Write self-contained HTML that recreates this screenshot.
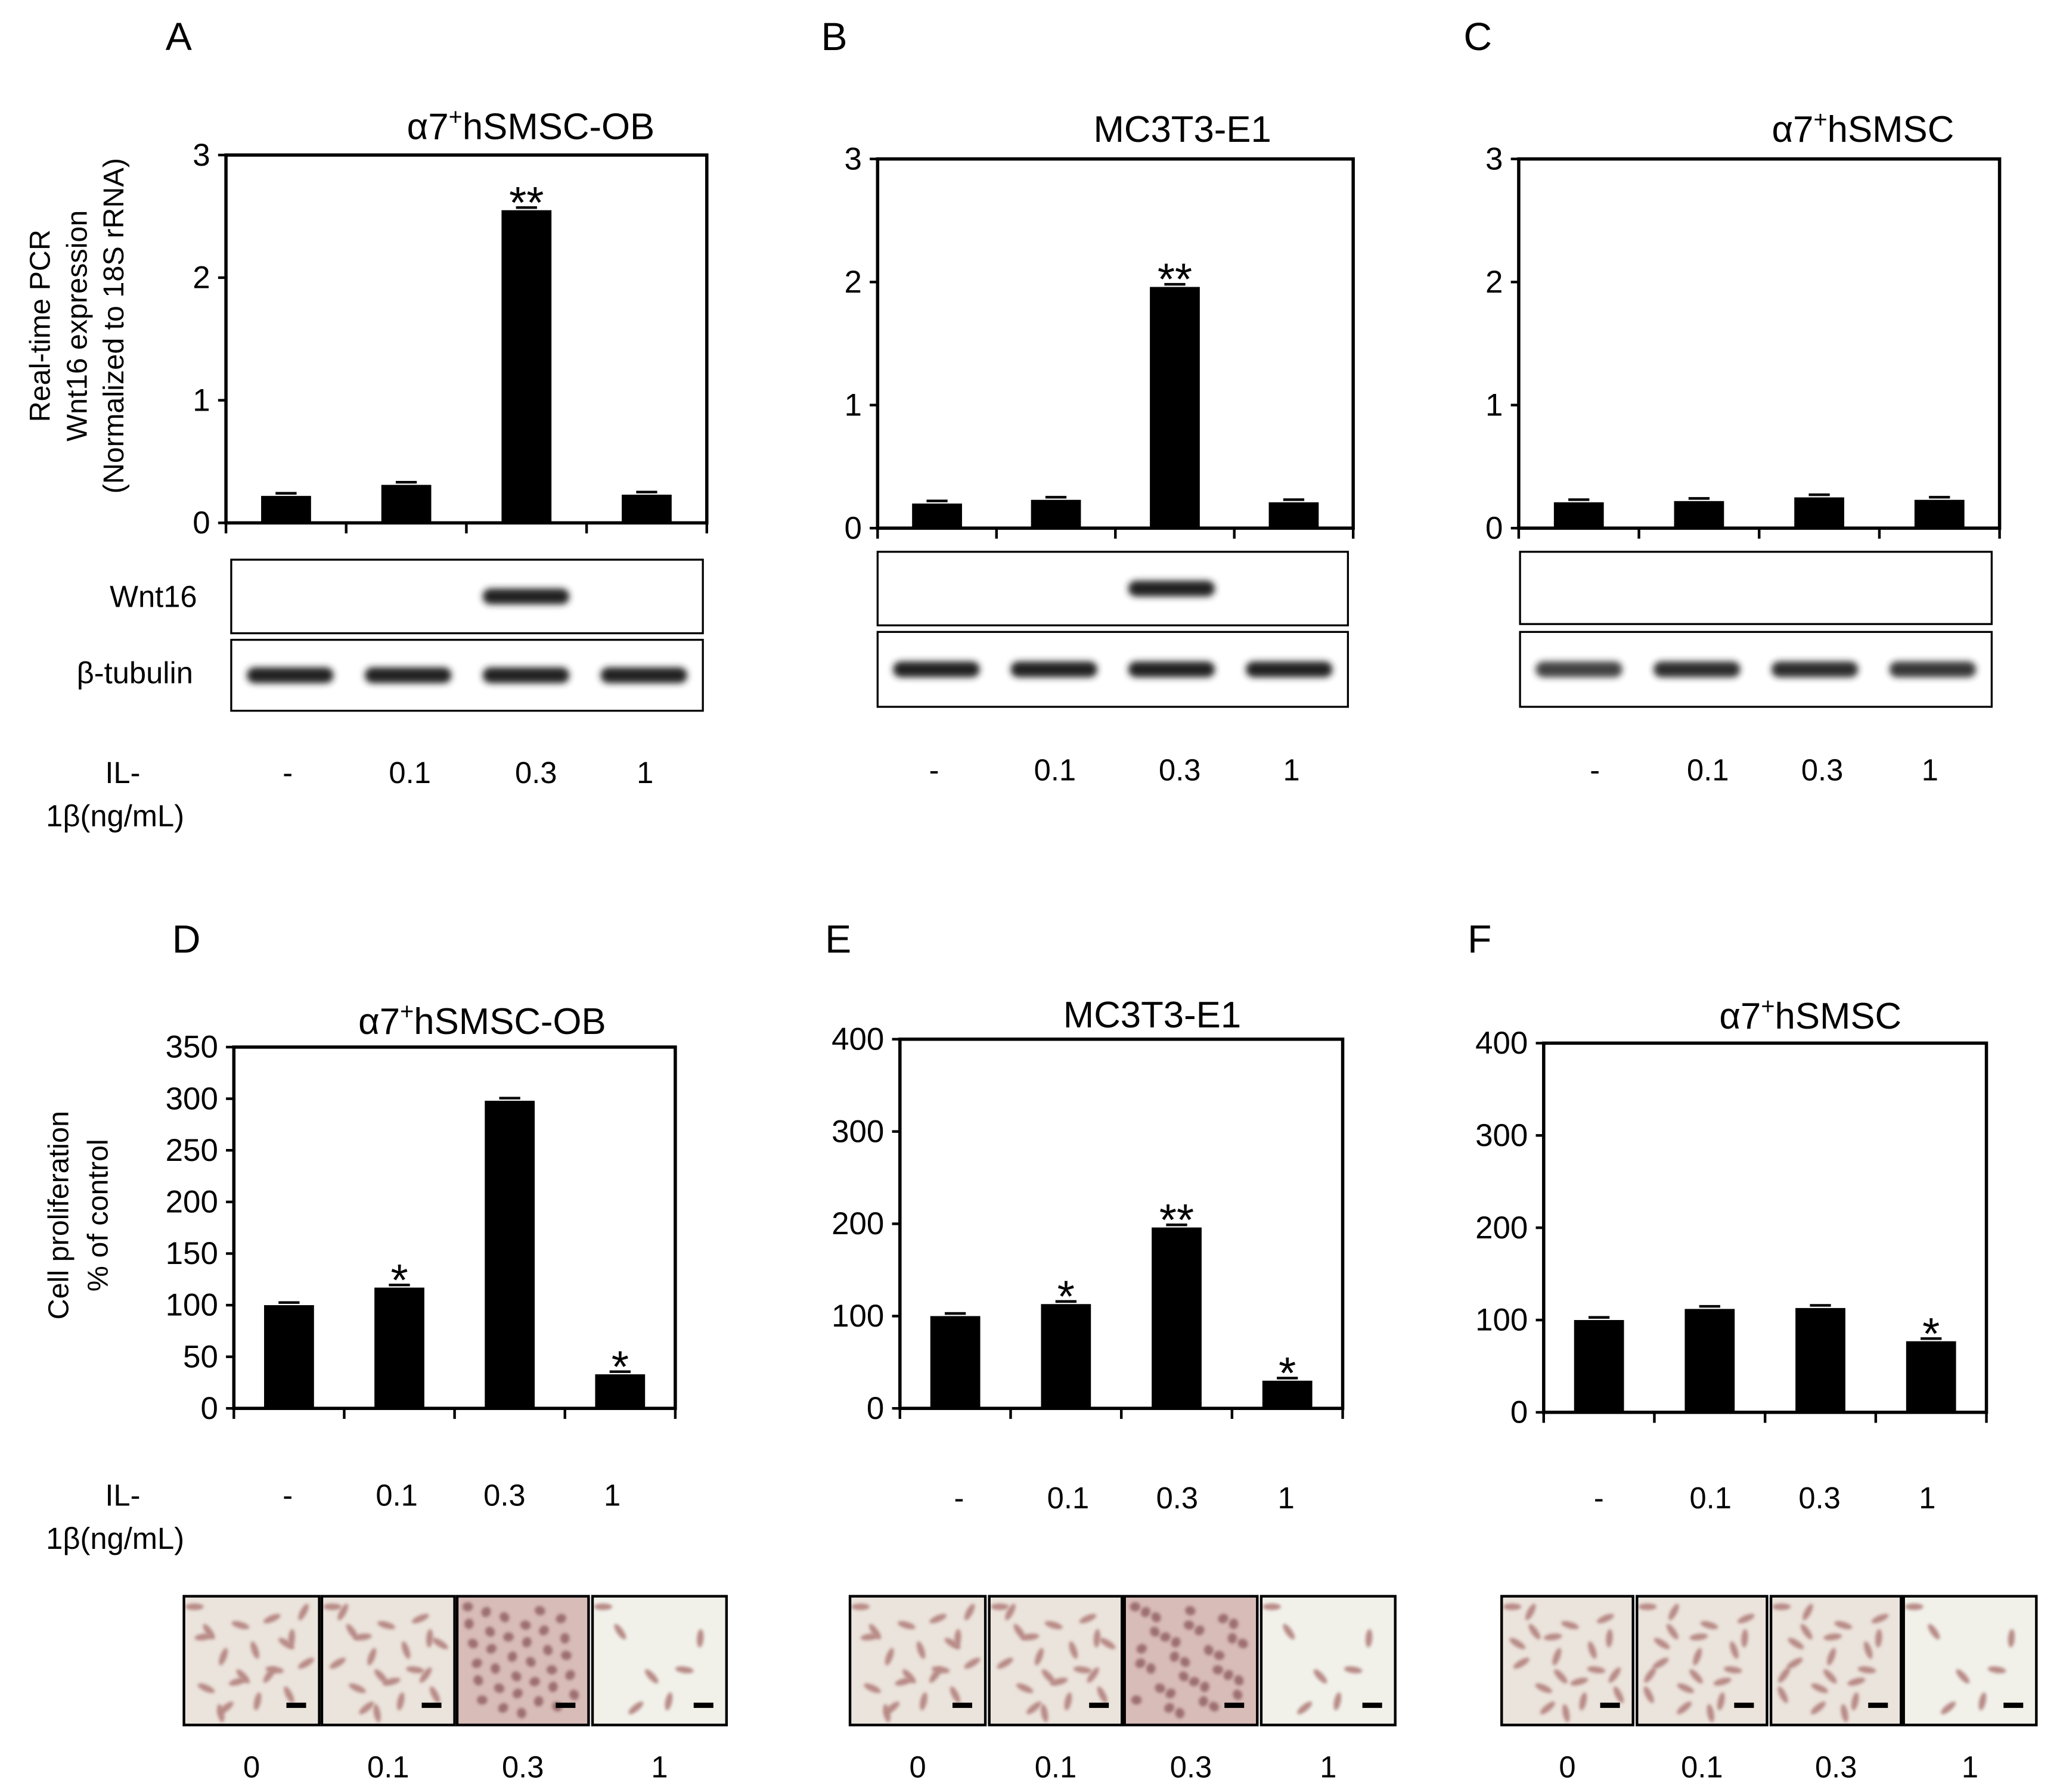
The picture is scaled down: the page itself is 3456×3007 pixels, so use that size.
<!DOCTYPE html>
<html><head><meta charset="utf-8"><style>
html,body{margin:0;padding:0;background:#fff}
svg{display:block}
text{font-family:"Liberation Sans",Arial,sans-serif;fill:#000}
</style></head><body>
<svg id="fig" width="3456" height="3007" viewBox="0 0 1568 1364" preserveAspectRatio="none" xmlns="http://www.w3.org/2000/svg">
<defs>
<filter id="blur" x="-20%" y="-50%" width="140%" height="200%"><feGaussianBlur stdDeviation="2.5"/></filter>
<filter id="soft" x="-50%" y="-50%" width="200%" height="200%"><feGaussianBlur stdDeviation="1.2"/></filter>
</defs>
<g id="root"></g>
</svg>
<script>
const NS="http://www.w3.org/2000/svg";
const root=document.getElementById('root');
function el(tag,attrs,parent,txt){const e=document.createElementNS(NS,tag);for(const k in attrs)e.setAttribute(k,attrs[k]);if(txt!==undefined)e.textContent=txt;(parent||root).appendChild(e);return e;}

// ---- Data ----
const doseLabels=["-","0.1","0.3","1"];
const imgLabels=["0","0.1","0.3","1"];
const pcrTicks=[0,1,2,3];
const prolTicksD=[0,50,100,150,200,250,300,350];
const prolTicks400=[0,100,200,300,400];
const valsA=[0.22,0.31,2.55,0.23];
const valsB=[0.20,0.23,1.96,0.21];
const valsC=[0.21,0.22,0.25,0.23];
const valsD=[100,117,298,33];
const valsE=[100,113,196,30];
const valsF=[100,112,113,77];
const starsA=["","","**",""];
const starsB=["","","**",""];
const starsC=["","","",""];
const starsD=["","*","","*"];
const starsE=["","*","**","*"];
const starsF=["","","","*"];
const wntA=[0,0,1,0], wntB=[0,0,1,0], wntC=[0,0,0,0];

function chart(name,x0,x1,yTop,yBot,max,ticks,vals,stars){
  const g=el('g',{});
  
  
  const y=v=>yBot-(v/max)*(yBot-yTop);
  const n=vals.length, step=(x1-x0)/n;
  const frame=el('rect',{x:x0,y:yTop,width:x1-x0,height:yBot-yTop,fill:'none',stroke:'#000','stroke-width':2.5},g);
  
  ticks.forEach(t=>{
    el('line',{x1:x0-6,x2:x0,y1:y(t),y2:y(t),stroke:'#000','stroke-width':2},g);
    const tl=el('text',{x:x0-12,y:y(t)+8,'text-anchor':'end','font-size':24},g,String(t));
    
  });
  for(let i=0;i<=n;i++){el('line',{x1:x0+i*step,x2:x0+i*step,y1:yBot,y2:yBot+8,stroke:'#000','stroke-width':2},g);}
  vals.forEach((v,i)=>{
    const cx=x0+(i+0.5)*step, w=38;
    const b=el('rect',{x:cx-w/2,y:y(v),width:w,height:yBot-y(v),fill:'#000'},g);
    
    el('line',{x1:cx-8,x2:cx+8,y1:y(v)-2,y2:y(v)-2,stroke:'#000','stroke-width':2},g);
    if(stars[i]){const s=el('text',{x:cx,y:y(v)+6,'text-anchor':'middle','font-size':34},g,stars[i]);
      }
  });
}
function letter(t,x,yy){const e=el('text',{x:x,y:yy,'font-size':30},root,t);}
function doseRow(name,centers,yy,labels){const g=el('g',{});
  labels.forEach((l,i)=>{el('text',{x:centers[i],y:yy,'text-anchor':'middle','font-size':23},g,l);});}
function blot(name,x0,x1,y0,y1,centers,intens){
  const g=el('g',{});
  el('rect',{x:x0,y:y0,width:x1-x0,height:y1-y0,fill:'#fff',stroke:'#000','stroke-width':1.5},g);
  const cy=(y0+y1)/2;
  intens.forEach((v,i)=>{if(v>0){const b=el('rect',{x:centers[i]-33,y:cy-6,width:66,height:12,rx:6,fill:'#222',opacity:v,filter:'url(#blur)'},g);
    }});
}
function centersOf(x0,x1){const s=(x1-x0)/4;return [0,1,2,3].map(i=>x0+(i+0.5)*s);}

letter('A',126,38);letter('B',625,38);letter('C',1114,38);
letter('D',131,725);letter('E',628,725);letter('F',1117,725);

function supTitle(x,yy,pre,sup,post){const e=el('text',{x:x,y:yy,'text-anchor':'middle','font-size':28});
  
  el('tspan',{},e,pre);el('tspan',{'font-size':18,dy:-11},e,sup);el('tspan',{dy:11},e,post);}
supTitle(404,106,'α7','+','hSMSC-OB');
const tb=el('text',{x:900,y:108,'text-anchor':'middle','font-size':28},root,'MC3T3-E1');
supTitle(1418,108,'α7','+','hSMSC');
supTitle(367,787,'α7','+','hSMSC-OB');
const te=el('text',{x:877,y:782,'text-anchor':'middle','font-size':28},root,'MC3T3-E1');
supTitle(1378,783,'α7','+','hSMSC');

chart('chart-a',172,538,118,398,3,pcrTicks,valsA,starsA);
chart('chart-b',668,1030,121,402,3,pcrTicks,valsB,starsB);
chart('chart-c',1156,1522,121,402,3,pcrTicks,valsC,starsC);
const ya=el('g',{transform:'translate(0,248) rotate(-90)'});
el('text',{x:0,y:38,'text-anchor':'middle','font-size':22},ya,'Real-time PCR');
el('text',{x:0,y:66,'text-anchor':'middle','font-size':22},ya,'Wnt16 expression');
el('text',{x:0,y:94,'text-anchor':'middle','font-size':22},ya,'(Normalized to 18S rRNA)');

const cA=centersOf(176,535), cB=centersOf(668,1026), cC=centersOf(1157,1516);
blot('blot-wnt16-a',176,535,426,482,cA,wntA);blot('blot-tubulin-a',176,535,487,541,cA,[1,1,1,1]);
blot('blot-wnt16-b',668,1026,420,476,cB,wntB);blot('blot-tubulin-b',668,1026,481,538,cB,[1,1,1,1]);
blot('blot-wnt16-c',1157,1516,420,475,cC,wntC);blot('blot-tubulin-c',1157,1516,481,538,cC,[0.85,0.95,0.95,0.9]);
const w1=el('text',{x:150,y:462,'text-anchor':'end','font-size':23},root,'Wnt16');
const w2=el('text',{x:147,y:520,'text-anchor':'end','font-size':23},root,'β-tubulin');

function ilLabel(x,yy){const e=el('text',{x:x,y:yy,'font-size':23});
  el('tspan',{x:x+45,y:yy},e,'IL-');el('tspan',{x:x,y:yy+33},e,'1β(ng/mL)');}
ilLabel(35,596);ilLabel(35,1146);
doseRow('dose-labels-a',[219,312,408,491],596,doseLabels);
doseRow('dose-labels-b',[711,803,898,983],594,doseLabels);
doseRow('dose-labels-c',[1214,1300,1387,1469],594,doseLabels);

chart('chart-d',178,514,797,1072,350,prolTicksD,valsD,starsD);
chart('chart-e',685,1022,791,1072,400,prolTicks400,valsE,starsE);
chart('chart-f',1175,1512,794,1075,400,prolTicks400,valsF,starsF);
const yd=el('g',{transform:'translate(0,925) rotate(-90)'});
el('text',{x:0,y:52,'text-anchor':'middle','font-size':22},yd,'Cell proliferation');
el('text',{x:0,y:82,'text-anchor':'middle','font-size':22},yd,'% of control');
doseRow('dose-labels-d',[219,302,384,466],1146,doseLabels);
doseRow('dose-labels-e',[730,813,896,979],1148,doseLabels);
doseRow('dose-labels-f',[1217,1302,1385,1467],1148,doseLabels);

function micro(name,x,y0,w,h,kind){
  const g=el('g',{});
  const bg=kind==='dense'?'#d8bcb8':(kind==='sparse'?'#f1f1ea':'#ebe4dc');
  el('rect',{x:x,y:y0,width:w,height:h,fill:bg},g);
  const n=kind==='dense'?34:(kind==='sparse'?7:20);
  for(let i=0;i<n;i++){const px=x+8+((i*37)%(w-16)), py=y0+8+((i*53)%(h-16));
    el('ellipse',{cx:px,cy:py,rx:kind==='dense'?4:7,ry:kind==='dense'?3.5:2.5,fill:kind==='dense'?'#9c6e70':'#b88a86',filter:'url(#soft)',transform:`rotate(${(i*47)%180} ${px} ${py})`},g);}
  el('rect',{x:x,y:y0,width:w,height:h,fill:'none',stroke:'#000','stroke-width':2},g);
  el('rect',{x:x+w-25,y:y0+h-17,width:15,height:4,fill:'#000'},g);
}
const mD=[[140,103],[245,101],[348,100],[451,102]], mE=[[647,103],[753,101],[856,101],[960,102]], mF=[[1143,100],[1246,99],[1348,99],[1449,101]];
[[mD,'d'],[mE,'e'],[mF,'f']].forEach(([arr,k])=>{
  arr.forEach((m,i)=>micro('micrograph-'+k+'-'+i,m[0],1215,m[1],98,(i==2&&k!=='f')?'dense':(i==3?'sparse':'normal')));
  doseRow('image-labels-'+k,arr.map(m=>m[0]+m[1]/2),1353,imgLabels);
});
</script>
</body></html>
